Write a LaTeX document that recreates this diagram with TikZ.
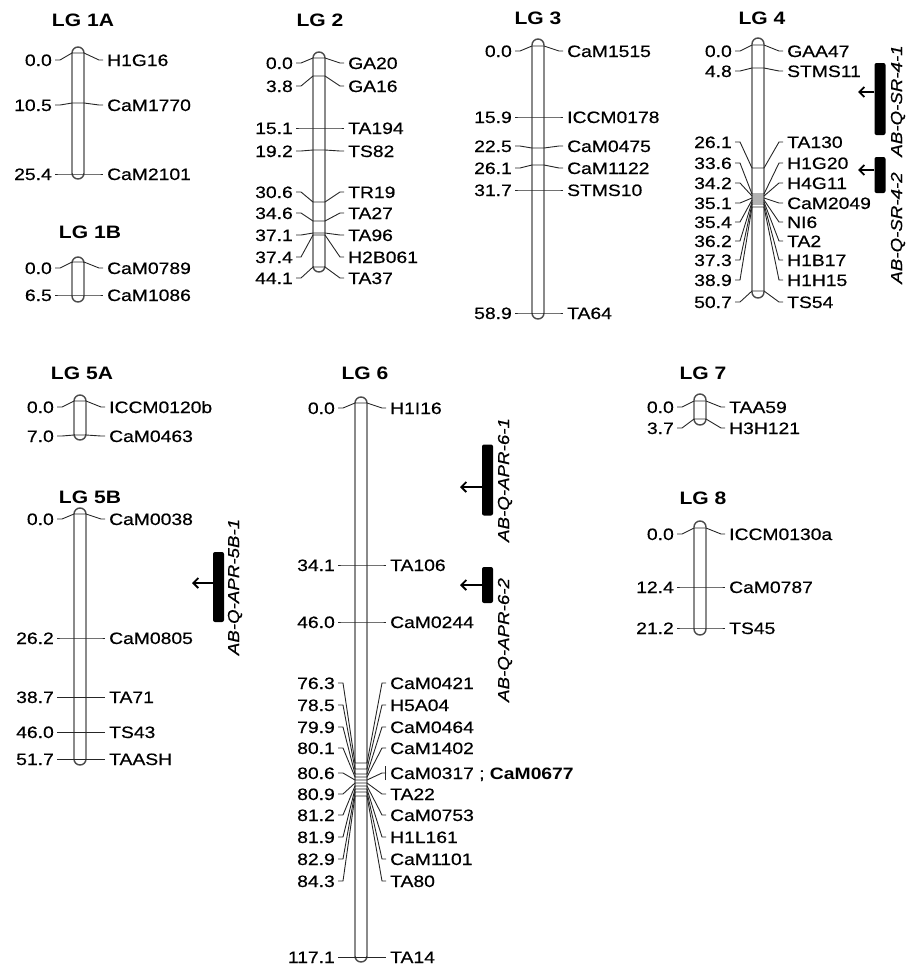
\documentclass[tikz,border=0pt]{standalone}
\usepackage{fontspec}
\setmainfont{Liberation Sans}[FakeStretch=1.17, UprightFeatures={FakeBold=0.5}, ItalicFeatures={FakeBold=0.5}]
\usetikzlibrary{positioning,arrows.meta}

\begin{document}
\begin{tikzpicture}[x=1pt,y=-1pt,
  lg/.style={inner sep=0pt, font=\fontsize{18}{20}\selectfont\bfseries},
  cmpos/.style={anchor=east, inner sep=0pt, text height=12pt, text depth=0pt, font=\fontsize{16.5}{18}\selectfont},
  locus/.style={anchor=west, inner sep=0pt, text height=12pt, text depth=0pt, font=\fontsize{16.5}{18}\selectfont},
  chrom/.style={draw=black!70, line width=1.4pt, fill=white, rounded corners=6pt},
  tick/.style={draw=black!85, line width=0.9pt},
  qtl/.style={fill=black, rounded corners=2pt, minimum width=11pt, inner sep=0pt},
  qlab/.style={rotate=90, inner sep=0pt, font=\fontsize{16}{18}\selectfont\itshape},
  pull/.style={-{Straight Barb[length=5pt,width=10pt]}, line width=1.8pt}]
\useasboundingbox (0,0) rectangle (912,967);

% linkage group titles
\node[lg] (lg1a) at (83,20) {LG 1A};
\node[lg] (lg1b) at (90,232) {LG 1B};
\node[lg] (lg2) at (320,20) {LG 2};
\node[lg] (lg3) at (538,18) {LG 3};
\node[lg] (lg4) at (762,18) {LG 4};
\node[lg] (lg5a) at (82,373) {LG 5A};
\node[lg] (lg5b) at (90,497) {LG 5B};
\node[lg] (lg6) at (365,373) {LG 6};
\node[lg] (lg7) at (703,373) {LG 7};
\node[lg] (lg8) at (703,498) {LG 8};

% chromosome bars
\foreach \x/\t/\b in {78/47/179, 78/257/302, 319/52/272, 538/39/319, 758/38/298,
                      80/395/440, 80/508/765, 361/397/962, 700/394/425, 700/521/635}
  \draw[chrom] (\x-6,\t) rectangle (\x+6,\b);

% markers: bar x / bar y / label y / cM / locus
\foreach \x/\by/\ly/\cmv/\mkv [count=\i] in {
   78/53/60/0.0/H1G16, 78/103/105/10.5/CaM1770, 78/174/174/25.4/CaM2101,
   78/262/268/0.0/CaM0789, 78/295/295/6.5/CaM1086,
   319/58/63/0.0/GA20, 319/76/86/3.8/GA16, 319/128/128/15.1/TA194, 319/150/151/19.2/TS82,
   319/202/192/30.6/TR19, 319/221/213/34.6/TA27, 319/233/235/37.1/TA96,
   319/235/257/37.4/H2B061, 319/267/278/44.1/TA37,
   538/46/51/0.0/CaM1515, 538/117/117/15.9/ICCM0178, 538/148/146/22.5/CaM0475,
   538/165/168/26.1/CaM1122, 538/190/190/31.7/STMS10, 538/313/313/58.9/TA64,
   758/45/51/0.0/GAA47, 758/68/71/4.8/STMS11, 758/168/142/26.1/TA130, 758/194/163/33.6/H1G20,
   758/196/183/34.2/H4G11, 758/198/203/35.1/CaM2049, 758/200/222/35.4/NI6, 758/202/241/36.2/TA2,
   758/204/260/37.3/H1B17, 758/207/280/38.9/H1H15, 758/291/302/50.7/TS54,
   80/401/407/0.0/ICCM0120b, 80/435/436/7.0/CaM0463,
   80/514/519/0.0/CaM0038, 80/638/638/26.2/CaM0805, 80/697/697/38.7/TA71,
   80/732/732/46.0/TS43, 80/759/759/51.7/TAASH,
   361/403/408/0.0/H1I16, 361/565/565/34.1/TA106, 361/622/622/46.0/CaM0244,
   361/763/683/76.3/CaM0421, 361/769/705/78.5/H5A04, 361/774/727/79.9/CaM0464,
   361/777/748/80.1/CaM1402, 361/780/773/80.6/{CaM0317 ; \textbf{CaM0677}},
   361/783/794/80.9/TA22, 361/786/815/81.2/CaM0753, 361/789/837/81.9/H1L161,
   361/792/859/82.9/CaM1101, 361/796/881/84.3/TA80, 361/957/957/117.1/TA14,
   700/401/407/0.0/TAA59, 700/419/428/3.7/H3H121,
   700/528/534/0.0/ICCM0130a, 700/587/587/12.4/CaM0787, 700/628/628/21.2/TS45}{
  \node[cmpos] (cm\i) at (\x-26,\ly) {\cmv};
  \node[locus] (mk\i) at (\x+29,\ly) {\mkv};
  \draw[tick] ([xshift=3pt]cm\i.east) -- (\x-18,\ly) -- (\x-6,\by) -- (\x+6,\by)
              -- (\x+21,\ly) -- ([xshift=-4pt]mk\i.west);
}
% two loci at 80.6
\draw[tick] ([xshift=-5pt,yshift=-7pt]mk46.west) -- ([xshift=-5pt,yshift=7pt]mk46.west);

% QTL
\node[qtl, minimum height=72pt] (sr41) at (880,99) {};
\coordinate (sr41a) at (858,92);
\draw[pull] (sr41.west |- sr41a) -- (sr41a);
\node[qlab] (sr41t) at (898,101) {AB-Q-SR-4-1};

\node[qtl, minimum height=36pt] (sr42) at (880,175) {};
\coordinate (sr42a) at (858,170);
\draw[pull] (sr42.west |- sr42a) -- (sr42a);
\node[qlab] (sr42t) at (898,228) {AB-Q-SR-4-2};

\node[qtl, minimum height=70pt] (apr5b) at (218.5,587) {};
\coordinate (apr5ba) at (192,583);
\draw[pull] (apr5b.west |- apr5ba) -- (apr5ba);
\node[qlab] (apr5bt) at (235,587) {AB-Q-APR-5B-1};

\node[qtl, minimum height=71pt] (apr61) at (487.5,480) {};
\coordinate (apr61a) at (460,487);
\draw[pull] (apr61.west |- apr61a) -- (apr61a);
\node[qlab] (apr61t) at (505,480) {AB-Q-APR-6-1};

\node[qtl, minimum height=36pt] (apr62) at (487.5,585) {};
\coordinate (apr62a) at (460,585);
\draw[pull] (apr62.west |- apr62a) -- (apr62a);
\node[qlab] (apr62t) at (505,640) {AB-Q-APR-6-2};
\end{tikzpicture}
\end{document}
